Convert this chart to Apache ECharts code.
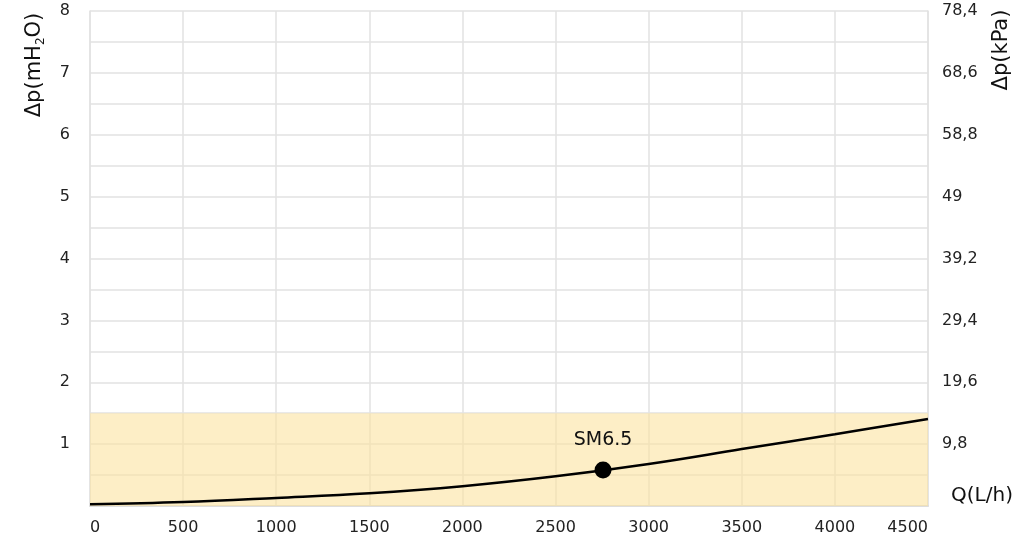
<!DOCTYPE html>
<html>
<head>
<meta charset="utf-8">
<script src="https://cdn.jsdelivr.net/npm/echarts@6/dist/echarts.min.js"></script>
<style>
  html, body { margin: 0; padding: 0; background: #fff; }
  #chart { width: 1026px; height: 536px; }
</style>
</head>
<body>
<div id="chart"></div>
<script>
// flow (L/h) and pressure drop (mH2O)
var flowQ = [0, 500, 1000, 1500, 2000, 2500, 3000, 3500, 4000, 4500];
var dpM = [0.03, 0.065, 0.13, 0.205, 0.32, 0.48, 0.68, 0.92, 1.16, 1.405];
// working point
var pointQ = [2755];
var pointDp = [0.58];
var pointName = "SM6.5";
// left / right tick labels
var leftLabels = ["", "1", "2", "3", "4", "5", "6", "7", "8"];
var rightLabels = ["", "9,8", "19,6", "29,4", "39,2", "49", "58,8", "68,6", "78,4"];
var bandTop = 1.5;

var font = "DejaVu Sans";
var txt = "#222222";
var gridCol = "#e2e2e2";

var chart = echarts.init(document.getElementById("chart"));

var curve = flowQ.map(function (q, i) { return [q, dpM[i]]; });
var pts = pointQ.map(function (q, i) { return [q, pointDp[i]]; });

var option = {
  animation: false,
  backgroundColor: "#ffffff",
  grid: { left: 90, right: 98, top: 11, bottom: 30 },
  xAxis: {
    type: "value",
    min: 0,
    max: 4500,
    interval: 500,
    axisLine: { show: true, lineStyle: { color: "#dddddd", width: 2 } },
    axisTick: { show: false },
    axisLabel: {
      color: txt,
      fontFamily: font,
      fontSize: 16,
      margin: 14,
      alignMinLabel: "left",
      alignMaxLabel: "right",
      formatter: function (v) { return String(v); }
    },
    splitLine: { show: true, lineStyle: { color: gridCol, width: 1.5 } }
  },
  yAxis: [
    {
      type: "value",
      min: 0,
      max: 8,
      interval: 1,
      axisLine: { show: true, lineStyle: { color: gridCol, width: 1.5 } },
      axisTick: { show: false },
      axisLabel: {
        color: txt,
        fontFamily: font,
        fontSize: 16,
        margin: 20,
        formatter: function (v) { return leftLabels[Math.round(v)]; }
      },
      splitLine: { show: true, lineStyle: { color: gridCol, width: 1.5 } },
      minorTick: { show: false, splitNumber: 2 },
      minorSplitLine: { show: true, lineStyle: { color: gridCol, width: 1.5 } }
    },
    {
      type: "value",
      position: "right",
      min: 0,
      max: 8,
      interval: 1,
      axisLine: { show: true, lineStyle: { color: gridCol, width: 1.5 } },
      axisTick: { show: false },
      axisLabel: {
        color: txt,
        fontFamily: font,
        fontSize: 16,
        margin: 14,
        formatter: function (v) { return rightLabels[Math.round(v)]; }
      },
      splitLine: { show: false }
    }
  ],
  graphic: [
    {
      type: "text",
      x: 35,
      y: 65,
      rotation: Math.PI / 2,
      style: {
        text: "Δp(mH{sub|2}O)",
        fill: "#111",
        font: "21px " + font,
        align: "center",
        verticalAlign: "middle",
        rich: {
          sub: { fontSize: 12, fontFamily: font, fill: "#111", verticalAlign: "bottom", padding: [12, 0, 0, 0] }
        }
      }
    },
    {
      type: "text",
      x: 1002,
      y: 50,
      rotation: Math.PI / 2,
      style: {
        text: "Δp(kPa)",
        fill: "#111",
        font: "21px " + font,
        align: "center",
        verticalAlign: "middle"
      }
    },
    {
      type: "text",
      x: 982,
      y: 496,
      style: {
        text: "Q(L/h)",
        fill: "#111",
        font: "20px " + font,
        align: "center",
        verticalAlign: "middle"
      }
    }
  ],
  series: [
    {
      type: "line",
      data: curve,
      smooth: 0.4,
      showSymbol: false,
      lineStyle: { color: "#000", width: 2.5 },
      markArea: {
        silent: true,
        itemStyle: { color: "rgba(252, 226, 160, 0.6)" },
        data: [[{ yAxis: 0 }, { yAxis: bandTop }]]
      }
    },
    {
      type: "scatter",
      data: pts,
      symbolSize: 17,
      itemStyle: { color: "#000", opacity: 1 },
      label: {
        show: true,
        position: "top",
        distance: 12,
        formatter: pointName,
        color: "#111",
        fontFamily: font,
        fontSize: 19
      },
      z: 5
    }
  ]
};

chart.setOption(option);
</script>
</body>
</html>
